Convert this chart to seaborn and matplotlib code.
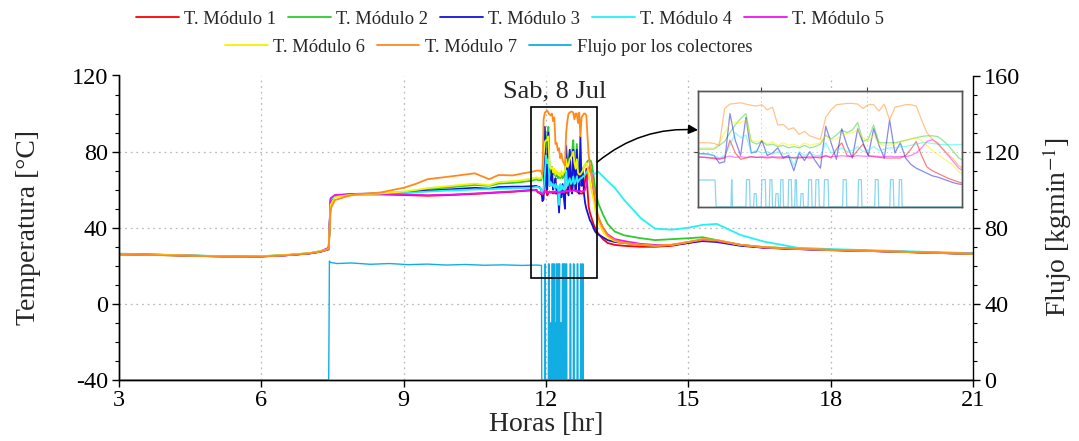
import matplotlib
matplotlib.use("Agg")
import matplotlib.pyplot as plt
import numpy as np
import pandas as pd
import seaborn as sns
from matplotlib.lines import Line2D
from matplotlib.patches import Rectangle
from matplotlib.ticker import MultipleLocator

# ---------------- data ----------------
hours = [3.0, 3.5, 4.0, 4.5, 5.0, 5.5, 6.0, 6.5, 7.0, 7.25, 7.42,
         7.46, 7.55, 7.8, 8.0, 8.5, 9.0, 9.25, 9.5, 10.0, 10.5, 10.8, 11.0, 11.3, 11.5, 11.7,
         11.8, 11.825, 11.85, 11.875, 11.9, 11.925, 11.95, 11.975, 12.0, 12.025,
         12.05, 12.075, 12.1, 12.125, 12.15, 12.175, 12.2, 12.225, 12.25, 12.275,
         12.3, 12.325, 12.35, 12.375, 12.4, 12.425, 12.45, 12.475, 12.5, 12.525,
         12.55, 12.575, 12.6, 12.625, 12.65, 12.675, 12.7, 12.725, 12.75, 12.775,
         12.8, 12.825, 12.85, 12.875, 12.9, 12.925, 12.95, 12.975, 13.0, 13.025, 13.05,
         13.1, 13.2, 13.3, 13.45, 13.65, 14.0, 14.3, 14.65, 15.0, 15.3, 15.6, 16.1,
         16.6, 17.3, 18.0, 18.8, 19.5, 20.2, 21.0]

t_mod1 = [26.3, 26.0, 25.7, 25.3, 25.0, 24.8, 24.9, 25.5, 26.5, 27.5, 29.2,
          55.0, 56.8, 57.3, 57.5, 57.5, 57.2, 57.0, 56.8, 57.2, 57.8, 58.2, 58.5, 58.9, 59.3, 59.6,
          60, 58.5, 58.5, 58, 57.5, 57, 58, 72, 62, 57,
          58, 59, 58.5, 58.5, 58, 58.5, 58, 58, 58.5, 58,
          58, 58.5, 58, 58.5, 58, 60, 58, 65, 70, 60,
          59, 64, 69, 60, 59, 58.5, 58, 58, 58, 58,
          60, 65, 71, 60, 51, 48, 46, 44, 42, 40.5, 39,
          37, 34, 32, 31, 30.5, 30, 30, 30.5, 32, 33.5, 33, 31,
          29.5, 28.8, 28.3, 27.8, 27.3, 26.8, 26.3]

t_mod2 = [26.1, 25.9, 25.6, 25.4, 25.1, 24.9, 25.0, 25.6, 26.6, 27.6, 28.8,
          53.0, 56.5, 57.2, 57.6, 58.0, 58.8, 59.5, 60.3, 61.3, 62.5, 62.0, 63.2, 63.6, 64.1, 64.7,
          65.5, 65, 65, 65, 65, 68, 71, 78, 84, 89,
          93, 71, 69, 71, 68, 69, 67, 68, 66, 67,
          66, 68, 66, 67, 69, 76, 73, 76, 80, 78,
          80, 86, 71, 73, 84, 70, 70, 70, 70, 71,
          72, 73, 74, 75, 75.5, 75.5, 75, 72, 68, 63, 58,
          53, 47, 42, 38, 36, 34.5, 33.5, 34, 34.5, 35, 33.5, 31,
          29.8, 29, 28.4, 27.9, 27.4, 26.9, 26.3]

t_mod3 = [26.0, 25.8, 25.6, 25.3, 25.1, 24.9, 25.0, 25.5, 26.4, 27.4, 28.6,
          54.0, 56.8, 57.4, 57.8, 58.0, 58.5, 59.0, 59.5, 60.2, 61.0, 60.5, 61.4, 61.6, 61.6, 61.8,
          62, 61.5, 61.5, 61, 60, 54, 55, 93, 72, 60,
          90, 62, 63, 72, 60, 62, 66, 58, 60, 48,
          62, 56, 63, 56, 50, 83, 70, 57, 81, 68,
          58, 81, 70, 60, 81, 68, 58, 88, 62, 70,
          58, 53, 50, 48, 46, 44, 43, 41.5, 40, 38.5, 37.5,
          36.5, 35, 33.5, 32.5, 32, 31, 30.5, 31, 32, 33, 32.5, 30.5,
          29.5, 28.8, 28.2, 27.8, 27.3, 26.8, 26.2]

t_mod4 = [26.4, 26.1, 25.8, 25.5, 25.2, 25.0, 25.1, 25.6, 26.6, 27.7, 29.3,
          54.5, 57.0, 57.3, 57.5, 57.8, 58.2, 58.6, 59.0, 59.6, 60.1, 60.2, 60.5, 60.7, 60.9, 61.0,
          61.5, 61.5, 61, 61, 60, 58, 60, 68, 78, 74,
          76, 62, 64, 62, 63, 61, 63, 61, 62, 52,
          63, 60, 62, 60, 60, 70, 62, 64, 66, 63,
          64, 67, 63, 64, 67, 64, 65, 66, 66, 67,
          67, 68, 69, 70, 70, 69.5, 69, 68.5, 68.5, 68.5, 68.5,
          69.5, 67, 64.5, 61, 54.5, 45, 39.5, 39, 40, 41.5, 42, 36.2,
          32.7, 29.5, 28.8, 28.2, 27.7, 27.2, 26.7]

t_mod5 = [26.2, 26.0, 25.7, 25.4, 25.0, 24.8, 24.9, 25.5, 26.5, 27.6, 29.5,
          55.5, 57.2, 57.6, 57.8, 57.8, 57.5, 57.3, 57.1, 57.4, 58.0, 58.4, 58.7, 59.1, 59.5, 59.9,
          59.5, 59, 58.8, 58.5, 58.2, 57.5, 58.5, 59.5, 58.5, 59,
          58.5, 59, 58.5, 59, 58.8, 59, 58.8, 59, 58.6, 58.4,
          58.8, 58.6, 59, 58.7, 58.9, 59.5, 59, 59.3, 59.8, 59.3,
          59.2, 59.8, 59.5, 59.2, 59.6, 59.1, 59, 59.4, 59, 59.2,
          59, 60, 62, 66, 71, 72.5, 70, 65, 60, 55, 50,
          45, 40, 36.5, 34, 33, 31.5, 31, 31, 32.5, 33.5, 33, 31,
          29.6, 28.9, 28.4, 27.9, 27.4, 26.9, 26.4]

t_mod6 = [26.1, 25.9, 25.7, 25.4, 25.1, 24.9, 25.1, 25.7, 26.7, 27.7, 28.9,
          52.0, 56.0, 57.0, 57.5, 58.0, 59.0, 59.8, 60.8, 62.0, 63.2, 62.3, 64.0, 64.5, 65.0, 65.8,
          66.5, 66, 66, 66, 66, 70, 78, 85, 86, 86,
          88, 72, 71, 72, 69, 71, 68, 70, 68, 69,
          67, 70, 68, 69, 70, 76, 72, 73, 76, 77,
          78, 80, 74, 71, 76, 69, 68, 68, 69, 70,
          72, 73, 74, 72, 68, 64, 61, 58, 55, 52, 47,
          43, 38, 35, 33, 32, 31, 30.5, 31, 32.5, 34, 33.5, 31,
          29.8, 29, 28.4, 27.9, 27.4, 26.9, 26.3]

t_mod7 = [26.0, 25.8, 25.5, 25.3, 25.0, 24.8, 24.9, 25.5, 26.5, 27.5, 28.7,
          50.0, 54.5, 56.5, 57.5, 58.5, 61.0, 63.0, 65.5, 67.0, 68.6, 65.5, 67.7, 67.5, 68.5, 69.4,
          70, 70, 70, 70, 69.5, 68, 97, 100.5, 101, 101.5,
          100.5, 99.5, 99, 100, 96, 98, 84, 84.5, 80.5, 81.8,
          76.6, 79, 75.5, 74, 72.7, 90, 96, 100, 100.5, 101,
          101, 100.5, 97, 100, 100, 95, 100.5, 88, 98, 99,
          100, 100, 99, 88, 78, 73, 69, 65, 61, 57, 52,
          46, 40, 36, 33.5, 32, 31, 30.5, 31, 32.5, 34, 33.5, 31,
          29.8, 29, 28.4, 27.9, 27.4, 26.9, 26.3]

# flow through the collectors (kg/min)
flux_base_hours = [3.0, 7.42, 7.435, 7.45, 7.6, 7.9, 8.3, 8.7, 9.1, 9.5, 9.9,
                   10.3, 10.7, 11.1, 11.5, 11.8, 11.905, 11.91]
flux_base_values = [0, 0, 62.5, 61.8, 61.2, 61.5, 60.8, 61.2, 60.6, 60.9, 60.4,
                    60.7, 60.3, 60.5, 60.2, 60.4, 60.2, 0]
pulse_on = [11.980, 12.050, 12.086, 12.122, 12.160, 12.188, 12.211, 12.248, 12.279,
            12.306, 12.342, 12.376, 12.416, 12.504, 12.576, 12.655, 12.726, 12.768]
pulse_off = [11.987, 12.070, 12.101, 12.144, 12.175, 12.204, 12.227, 12.266, 12.290,
             12.321, 12.361, 12.395, 12.439, 12.524, 12.595, 12.674, 12.745, 12.784]
pulse_peak = [61, 61, 30, 61, 61, 30, 61, 61, 61, 30, 61, 61, 61, 61, 61, 61, 61, 61]
flux_end_hours = [21.0]
flux_end_values = [0]

series_names = ["T. Módulo 1", "T. Módulo 2", "T. Módulo 3", "T. Módulo 4",
                "T. Módulo 5", "T. Módulo 6", "T. Módulo 7"]
flux_name = "Flujo por los colectores"
colors = ["#FF0000", "#2ECC2E", "#1414D8", "#22F2F2", "#F010F0", "#F2F200", "#FF8A1C"]
flux_color = "#12AEE3"

# ---------------- build tables ----------------
temps = pd.DataFrame({"Horas": hours})
for name, vals in zip(series_names, [t_mod1, t_mod2, t_mod3, t_mod4, t_mod5, t_mod6, t_mod7]):
    temps[name] = vals
temps_long = temps.melt(id_vars="Horas", var_name="Serie", value_name="Temperatura")

fh, fv = list(flux_base_hours), list(flux_base_values)
for on, off, pk in zip(pulse_on, pulse_off, pulse_peak):
    fh += [on, on + 0.003, off - 0.003, off]
    fv += [0, pk, pk, 0]
fh += flux_end_hours
fv += flux_end_values
flux = pd.DataFrame({"Horas": fh, "Flujo": fv})

# ---------------- style ----------------
sns.set_theme(style="white")
plt.rcParams["font.family"] = ["Liberation Serif", "DejaVu Serif"]
plt.rcParams["mathtext.fontset"] = "stix"
plt.rcParams["axes.unicode_minus"] = False

W, H = 1079, 441
fig = plt.figure(figsize=(W / 100, H / 100), dpi=100)
ax = fig.add_axes([119 / W, 1 - 380 / H, 854 / W, 304.5 / H])
ax2 = ax.twinx()

palette = dict(zip(series_names, colors))
sns.lineplot(data=temps_long, x="Horas", y="Temperatura", hue="Serie",
             hue_order=series_names, palette=palette, estimator=None, sort=False,
             linewidth=1.3, legend=False, ax=ax)
sns.lineplot(data=flux, x="Horas", y="Flujo", color=flux_color, estimator=None,
             sort=False, linewidth=1.0, legend=False, ax=ax2)
for ln in ax2.lines:
    ln.set_clip_on(False)

ax.set_xlim(3, 21)
ax.set_ylim(-40, 120)
ax2.set_ylim(0, 160)
ax.set_xticks([3, 6, 9, 12, 15, 18, 21])
ax.set_yticks([-40, 0, 40, 80, 120])
ax.yaxis.set_minor_locator(MultipleLocator(10))
ax2.set_yticks([0, 40, 80, 120, 160])
ax2.yaxis.set_minor_locator(MultipleLocator(10))

for a in (ax, ax2):
    a.spines["top"].set_visible(False)
    for s in ("left", "right", "bottom"):
        a.spines[s].set_color("black")
        a.spines[s].set_linewidth(1.0)
    a.tick_params(which="major", direction="out", length=5, width=1, labelsize=17.5,
                  colors="black")
    a.tick_params(which="minor", direction="out", length=3, width=0.8, colors="black")
ax.tick_params(axis="y", which="both", left=True, right=False, pad=3)
ax.tick_params(axis="x", which="both", bottom=True, pad=2)
ax2.tick_params(axis="y", which="both", right=True, left=False, pad=3)
ax.spines["right"].set_visible(False)

for gx in [6, 9, 12, 15, 18]:
    ax.axvline(gx, color="#BBBBBB", lw=0.9, ls=(0, (1.5, 3)), zorder=0)
for gy in [0, 40, 80]:
    ax.axhline(gy, color="#BBBBBB", lw=0.9, ls=(0, (1.5, 3)), zorder=0)

ax.set_xlabel("Horas [hr]", fontsize=20, labelpad=1)
ax.set_ylabel("Temperatura [°C]", fontsize=20, labelpad=22)
ax2.set_ylabel("Flujo [kgmin$^{-1}$]", fontsize=20, labelpad=14)

# zoom box and date label
ax2.add_patch(Rectangle((11.686, 13.6), 13.08 - 11.686, 103.6 - 13.6,
                        transform=ax.transData, fill=False, ec="black", lw=1.2, zorder=6))
ax.text(12.19, 111.5, "Sab, 8 Jul", ha="center", va="center", fontsize=19)

# ---------------- inset ----------------
axin = fig.add_axes([698 / W, 1 - 207 / H, 264 / W, 116 / H])
axin2 = axin.twinx()
sns.lineplot(data=temps_long, x="Horas", y="Temperatura", hue="Serie",
             hue_order=series_names, palette=palette, estimator=None, sort=False,
             linewidth=0.9, alpha=0.5, legend=False, ax=axin)
sns.lineplot(data=flux, x="Horas", y="Flujo", color=flux_color, estimator=None,
             sort=False, linewidth=0.9, alpha=0.5, legend=False, ax=axin2)
axin.set_xlim(11.825, 13.065)
axin.set_ylim(19.4, 110.8)
axin2.set_ylim(0, 259)
axin.set_xticks([12.12, 12.62])
axin.set_yticks([63])
axin2.set_yticks([])
axin.grid(True, color="#CCCCCC", lw=0.7, ls=(0, (1.5, 3)))
axin.tick_params(direction="out", length=3, width=0.8, colors="#444444",
                 labelbottom=False, labelleft=False, top=True, right=True)
for a in (axin, axin2):
    a.set_xlabel("")
    a.set_ylabel("")
    for s in a.spines.values():
        s.set_color("#555555")
        s.set_linewidth(1.0)

# arrow from box to inset
ax2.annotate("", xy=(0.0, 0.664), xycoords=axin, xytext=(13.08, 74.5),
             textcoords=ax.transData,
             arrowprops=dict(arrowstyle="-|>", color="black", lw=1.1,
                             connectionstyle="arc3,rad=-0.2", mutation_scale=14,
                             shrinkA=0, shrinkB=0))

# ---------------- legend ----------------
h1 = [Line2D([], [], color=c, lw=1.3) for c in colors[:5]]
h2 = [Line2D([], [], color=c, lw=1.3) for c in colors[5:]] + [Line2D([], [], color=flux_color, lw=1.3)]
kw = dict(frameon=False, fontsize=13.3, handlelength=2.3, handletextpad=0.3,
          columnspacing=0.65, loc="center")
fig.legend(h1, series_names[:5], ncol=5, bbox_to_anchor=(0.473, 1 - 19 / H), **kw)
fig.legend(h2, series_names[5:] + [flux_name], ncol=3, bbox_to_anchor=(0.453, 1 - 47 / H), **kw)

fig.savefig("out.png", dpi=100)
